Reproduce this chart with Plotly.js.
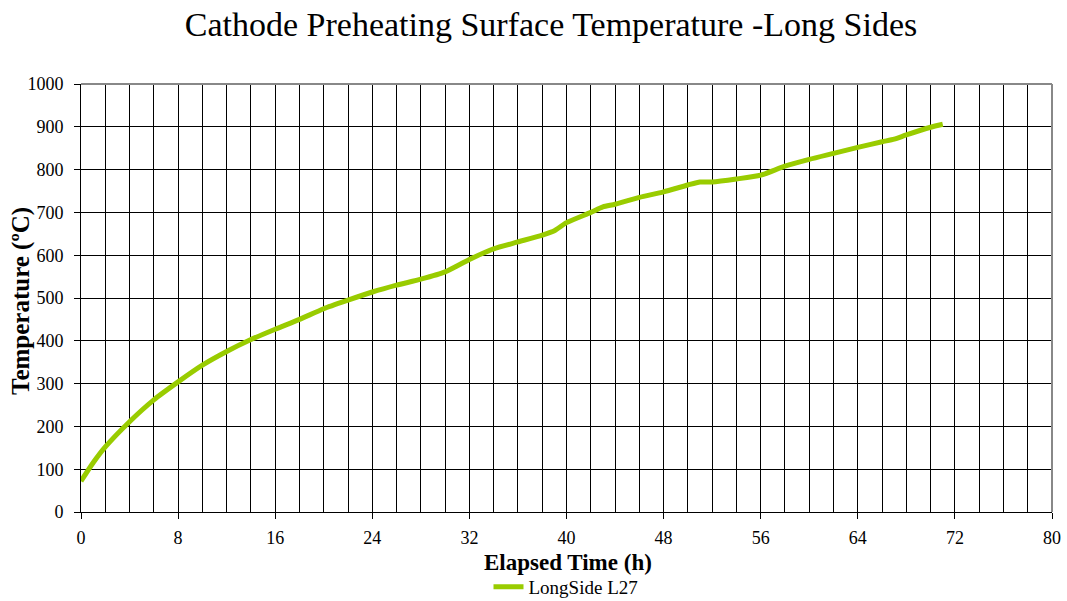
<!DOCTYPE html>
<html>
<head>
<meta charset="utf-8">
<script src="https://cdn.plot.ly/plotly-3.0.1.min.js"></script>
<style>html,body{margin:0;padding:0;background:#fff;}#chart{width:1067px;height:601px;}</style>
</head>
<body>
<div id="chart"></div>
<script>
var elapsedHours = [0, 1, 2, 4, 6, 8, 10, 12, 14, 16, 18, 20, 22, 24, 26, 28, 30, 32, 34, 36, 38, 39, 40, 42, 43, 44, 46, 48, 50, 51, 52, 54, 56, 58, 60, 62, 64, 66, 67, 68, 70, 71];
var longSideL27 = [72, 115, 152, 211, 262, 304, 343, 375, 403, 427, 450, 475, 495, 514, 530, 544, 561, 590, 615, 631, 647, 657, 676, 700, 713, 719, 735, 748, 764, 771, 771, 778, 787, 808, 824, 838, 852, 865, 871, 881, 899, 906];
var seriesName = "LongSide L27";
var xTickVals = [0, 8, 16, 24, 32, 40, 48, 56, 64, 72, 80];
var yTickVals = [0, 100, 200, 300, 400, 500, 600, 700, 800, 900, 1000];
var chartTitle = "Cathode Preheating Surface Temperature -Long Sides";
var xTitle = "Elapsed Time (h)";
var yTitle = "Temperature (ºC)";

var serif = "'Liberation Serif', 'Times New Roman', 'DejaVu Serif', serif";

var trace = {
  x: elapsedHours,
  y: longSideL27,
  type: "scatter",
  mode: "lines",
  name: seriesName,
  line: {color: "#99cc00", width: 5, shape: "spline", smoothing: 0.6}
};

var layout = {
  width: 1067,
  height: 601,
  margin: {l: 81, r: 15, t: 84, b: 89},
  paper_bgcolor: "#ffffff",
  plot_bgcolor: "#ffffff",
  font: {family: serif, color: "#000000", size: 18},
  title: {
    text: chartTitle,
    font: {family: serif, size: 34, color: "#000000"},
    x: 551 / 1067, xanchor: "center", xref: "container",
    y: 1 - 24 / 601, yanchor: "middle", yref: "container"
  },
  xaxis: {
    range: [0, 80],
    tickvals: xTickVals,
    ticks: "outside", ticklen: 6, tickcolor: "#000000",
    ticklabelstandoff: 3,
    showline: true, linecolor: "#000000", linewidth: 1,
    showgrid: true, gridcolor: "#000000", gridwidth: 1,
    minor: {dtick: 2, tick0: 0, showgrid: true, gridcolor: "#000000", gridwidth: 1, ticks: ""},
    zeroline: false,
    automargin: false,
    tickfont: {family: serif, size: 18, color: "#000000"},
    title: {text: ""}
  },
  yaxis: {
    range: [0, 1000],
    tickvals: yTickVals,
    ticks: "outside", ticklen: 6, tickcolor: "#000000",
    ticklabelstandoff: 7,
    showline: true, linecolor: "#000000", linewidth: 1,
    showgrid: true, gridcolor: "#000000", gridwidth: 1,
    zeroline: false,
    automargin: false,
    tickfont: {family: serif, size: 18, color: "#000000"},
    title: {text: ""}
  },
  annotations: [
    {
      text: "<b>" + xTitle + "</b>",
      xref: "paper", yref: "paper",
      x: (568 - 81) / 971, y: (512 - 562) / 428,
      xanchor: "center", yanchor: "middle",
      showarrow: false,
      font: {family: serif, size: 23, color: "#000000"}
    },
    {
      text: "<b>" + yTitle + "</b>",
      xref: "paper", yref: "paper",
      x: (21 - 81) / 971, y: (512 - 301) / 428,
      xanchor: "center", yanchor: "middle",
      textangle: -90, showarrow: false,
      font: {family: serif, size: 25, color: "#000000"}
    }
  ],
  showlegend: true,
  legend: {
    orientation: "h",
    x: 566 / 1067, xanchor: "center", xref: "container",
    y: 1 - 568 / 601, yanchor: "top", yref: "container",
    font: {family: serif, size: 19, color: "#000000"},
    bgcolor: "rgba(0,0,0,0)"
  },
  shapes: [
    {type: "line", xref: "paper", yref: "paper", x0: 0, x1: 1, y0: 1, y1: 1, line: {color: "#888888", width: 2}},
    {type: "line", xref: "paper", yref: "paper", x0: 1, x1: 1, y0: 0, y1: 1, line: {color: "#888888", width: 2}}
  ]
};

Plotly.newPlot("chart", [trace], layout, {displayModeBar: false, staticPlot: true});
</script>
</body>
</html>
